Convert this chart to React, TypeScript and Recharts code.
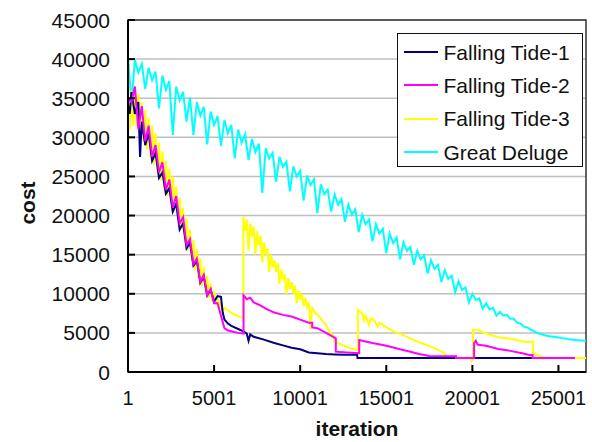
import React from "react";
import {
  LineChart,
  Line,
  XAxis,
  YAxis,
  CartesianGrid,
  Legend,
  ReferenceArea,
} from "recharts";

// x axis ticks and y axis ticks
const xTicks = [1, 5001, 10001, 15001, 20001, 25001];
const yTicks = [0, 5000, 10000, 15000, 20000, 25000, 30000, 35000, 40000, 45000];

const seriesNames = ["Falling Tide-1", "Falling Tide-2", "Falling Tide-3", "Great Deluge"];
const seriesColors = ["#000080", "#ff00ff", "#ffff00", "#00ffff"];

// Falling Tide-1
const ft1Iter = [
  1, 101, 201, 401, 601, 701, 801, 1001, 1201, 1401,
  1601, 1801, 2001, 2201, 2401, 2601, 2801, 3001, 3201, 3401,
  3601, 3801, 4001, 4201, 4401, 4601, 4801, 5001, 5201, 5401,
  5501, 5601, 5801, 6001, 6401, 6701, 6901, 7001, 7101, 7301,
  7801, 8501, 9001, 9501, 10001, 10501, 11001, 11501, 12001, 12601,
  13301, 13331, 24201,
];
const ft1Cost = [
  34000, 33000, 35800, 33000, 34500, 27500, 32000, 29000, 30500, 27000,
  28000, 24800, 25500, 22800, 23500, 20500, 21500, 18200, 19000, 15800,
  16500, 13600, 14200, 11400, 12200, 9800, 10500, 9000, 9700, 9600,
  7600, 6700, 6200, 5900, 5500, 5200, 4900, 4000, 4800, 4500,
  4200, 3700, 3400, 3100, 2900, 2500, 2400, 2300, 2250, 2200,
  2200, 1800, 1800,
];

// Falling Tide-2
const ft2Iter = [
  1, 201, 401, 601, 801, 1001, 1201, 1401, 1601, 1801,
  2001, 2201, 2401, 2601, 2801, 3001, 3201, 3401, 3601, 3801,
  4001, 4201, 4401, 4601, 4801, 5001, 5201, 5401, 5601, 5801,
  6001, 6201, 6401, 6711, 6711, 6901, 7101, 7301, 7601, 8001,
  8501, 9001, 9501, 10001, 10501, 10701, 10701, 11001, 11501, 12071,
  12071, 12701, 13431, 13431, 13801, 14201, 14801, 15301, 15801, 16401,
  16901, 17501, 19051, 19051, 20101, 20101, 20201, 20301, 20801, 21501,
  22201, 22901, 23301, 23501, 23501, 25961,
];
const ft2Cost = [
  35000, 34500, 36500, 31000, 34000, 29500, 31500, 27500, 29000, 25500,
  26800, 23300, 24600, 21000, 22500, 19000, 19800, 16200, 17000, 13800,
  14500, 11500, 12400, 9800, 10600, 8800, 8800, 7200, 5600, 5300,
  5200, 5100, 5000, 4900, 9800, 9300, 9500, 8900, 8600, 8100,
  7600, 7300, 7100, 6700, 6300, 6300, 5700, 5600, 5000, 4300,
  2600, 2500, 2400, 4100, 3900, 3700, 3450, 3200, 2900, 2600,
  2300, 2050, 2000, 1800, 1800, 3700, 4000, 3500, 3350, 2950,
  2700, 2400, 2180, 2180, 1800, 1800,
];

// Falling Tide-3
const ft3Iter = [
  1, 101, 201, 301, 401, 501, 601, 701, 801, 901,
  1001, 1101, 1201, 1301, 1401, 1501, 1601, 1701, 1801, 1901,
  2001, 2101, 2201, 2301, 2401, 2501, 2601, 2701, 2801, 2901,
  3001, 3101, 3201, 3301, 3401, 3501, 3601, 3701, 3801, 3901,
  4001, 4101, 4201, 4301, 4401, 4501, 4601, 4701, 4801, 4901,
  5001, 5101, 5201, 5301, 5401, 5501, 5601, 5801, 6001, 6201,
  6401, 6701, 6701, 6801, 6901, 7001, 7101, 7201, 7301, 7401,
  7501, 7601, 7701, 7801, 7901, 8001, 8101, 8201, 8301, 8401,
  8501, 8601, 8701, 8801, 8901, 9001, 9101, 9201, 9301, 9401,
  9501, 9601, 9701, 9801, 9901, 10001, 10101, 10201, 10301, 10401,
  10501, 10601, 10701, 10901, 11101, 11301, 11501, 11701, 11971, 11971,
  12401, 12801, 13351, 13351, 13601, 13701, 13801, 14001, 14101, 14301,
  14501, 14601, 15001, 15401, 15801, 16201, 16601, 17001, 17601, 18001,
  18401, 18501, 19901, 19951, 20041, 20041, 20401, 20701, 21101, 21601,
  22301, 23001, 23531, 23531, 24201, 26601,
];
const ft3Cost = [
  35500, 31000, 36000, 31500, 36500, 31500, 35500, 30500, 34500, 29500,
  33500, 28500, 32500, 27500, 31500, 26500, 30500, 25500, 29300, 24500,
  28200, 23500, 27000, 22500, 26000, 22000, 25000, 21000, 23700, 19500,
  22300, 18200, 21000, 17000, 19600, 15500, 18200, 14200, 16900, 13000,
  15700, 12000, 14500, 11000, 13400, 10300, 12300, 9500, 11300, 9000,
  10400, 8600, 9600, 8200, 8800, 7800, 8200, 7900, 7600, 7350,
  7150, 6900, 19900, 18000, 19500, 15500, 19000, 17300, 18600, 15000,
  18000, 16200, 17400, 14000, 16600, 15000, 15800, 12800, 15000, 13400,
  14300, 12800, 13900, 11300, 13100, 11800, 12500, 10000, 12000, 10600,
  11500, 10000, 11000, 8800, 10400, 9200, 10000, 8400, 9500, 8300,
  8900, 5500, 8200, 7500, 7100, 6500, 6000, 5200, 4500, 3900,
  3500, 3100, 2800, 7950, 7500, 6600, 7200, 6000, 6900, 6600,
  5800, 6300, 5700, 5200, 4900, 4500, 4100, 3700, 3240, 2820,
  2400, 1800, 1800, 1400, 1700, 5400, 5300, 5000, 4700, 4400,
  4230, 3880, 3880, 2400, 1800, 1800,
];

// Great Deluge, one reading every 200 iterations
const gdCost = [
  40400, 34400, 39900, 38300, 39400, 36200, 38900, 37300, 38400, 33700,
  37900, 36100, 37200, 30300, 36500, 34700, 35800, 32000, 35100, 30300,
  34500, 32800, 33900, 29100, 33300, 31600, 32700, 28900, 32200, 30500,
  31600, 27300, 31000, 29300, 30400, 27100, 29800, 28100, 29200, 22900,
  28600, 27300, 28000, 24300, 27500, 26200, 26900, 23100, 26300, 25000,
  25700, 21900, 25100, 23900, 24600, 20300, 24000, 22700, 23300, 20500,
  22700, 21400, 22100, 19200, 21400, 20100, 20800, 17900, 20100, 18900,
  19500, 16700, 18900, 17700, 18300, 15200, 17700, 16500, 17200, 14400,
  16600, 15500, 16000, 13700, 15500, 14400, 14900, 12600, 14300, 13200,
  13700, 11500, 13000, 11900, 12300, 10200, 11600, 10500, 10800, 8900,
  10000, 9200, 9400, 8100, 8800, 8000, 8200, 7200, 7700, 7200,
  7300, 6800, 6800, 6300, 6200, 5800, 5700, 5400, 5200, 4950,
  4850, 4700, 4600, 4550, 4480, 4400, 4330, 4270, 4200, 4150,
  4100, 4060, 4030, 4000,
];
const gdIter = gdCost.map((_, i) => 1 + 200 * i);

const toRows = (iters: number[], costs: number[]) =>
  iters.map((iter, i) => ({ iter, cost: costs[i] }));

const ft1Data = toRows(ft1Iter, ft1Cost);
const ft2Data = toRows(ft2Iter, ft2Cost);
const ft3Data = toRows(ft3Iter, ft3Cost);
const gdData = toRows(gdIter, gdCost);

const FONT = "Arial, 'Liberation Sans', sans-serif";

const YTick = (props: any) => {
  const { x, y, payload } = props;
  return (
    <g>
      <line x1={x + 18} x2={x + 25} y1={y} y2={y} stroke="#000" strokeWidth={2} />
      <text x={x} y={y} dy={7.5} textAnchor="end" fontSize={21} fontFamily={FONT} fill="#111">
        {payload.value}
      </text>
    </g>
  );
};

const XTick = (props: any) => {
  const { x, y, payload } = props;
  return (
    <g>
      <line x1={x} x2={x} y1={y - 18} y2={y - 25} stroke="#000" strokeWidth={2} />
      <text x={x} y={y} dy={15} textAnchor="middle" fontSize={20} fontFamily={FONT} fill="#111">
        {payload.value}
      </text>
    </g>
  );
};

const CostLabel = (props: any) => {
  const vb = props.viewBox || { x: 0, y: 20, width: 128, height: 352 };
  const cx = vb.x + 27;
  const cy = vb.y + vb.height / 2 + 7;
  return (
    <text
      x={cx}
      y={cy}
      transform={`rotate(-90, ${cx}, ${cy})`}
      textAnchor="middle"
      dominantBaseline="central"
      fontSize={21}
      fontWeight="bold"
      fontFamily={FONT}
      fill="#111"
    >
      cost
    </text>
  );
};

const IterLabel = (props: any) => {
  const vb = props.viewBox || { x: 128, y: 372, width: 458, height: 70 };
  return (
    <text
      x={vb.x + vb.width / 2}
      y={vb.y + 64}
      textAnchor="middle"
      fontSize={21}
      fontWeight="bold"
      fontFamily={FONT}
      fill="#111"
    >
      iteration
    </text>
  );
};

const LegendBox = () => (
  <div
    style={{
      boxSizing: "border-box",
      width: 186,
      height: 134,
      border: "1.5px solid #111",
      background: "#fff",
      paddingTop: 1.5,
      fontFamily: FONT,
    }}
  >
    {seriesNames.map((name, i) => (
      <div key={name} style={{ display: "flex", alignItems: "center", height: 33.3 }}>
        <div style={{ marginLeft: 5.5, width: 34, height: 2, background: seriesColors[i] }} />
        <span style={{ marginLeft: 6, fontSize: 21, color: "#111", lineHeight: "21px", whiteSpace: "nowrap" }}>
          {name}
        </span>
      </div>
    ))}
  </div>
);

export default function App() {
  return (
    <div style={{ position: "absolute", left: 0, top: 0, width: 592, height: 442, background: "#fff" }}>
      <LineChart width={592} height={442} margin={{ top: 20, right: 6, bottom: 0, left: 0 }}>
        <CartesianGrid vertical={false} stroke="#bfbfbf" strokeWidth={1.5} />
        <XAxis
          dataKey="iter"
          type="number"
          domain={[1, 26601]}
          ticks={xTicks}
          allowDataOverflow
          height={70}
          tickSize={0}
          tickMargin={18}
          tick={<XTick />}
          tickLine={false}
          axisLine={{ stroke: "#000", strokeWidth: 2 }}
          label={<IterLabel />}
        />
        <YAxis
          type="number"
          domain={[0, 45000]}
          ticks={yTicks}
          allowDataOverflow
          width={128}
          tickSize={0}
          tickMargin={18}
          tick={<YTick />}
          tickLine={false}
          axisLine={{ stroke: "#000", strokeWidth: 2 }}
          label={<CostLabel />}
        />
        <ReferenceArea x1={1} x2={26601} y1={0} y2={45000} fill="none" stroke="#333" strokeWidth={1.5} />
        <Line data={gdData} dataKey="cost" name={seriesNames[3]} stroke={seriesColors[3]} strokeWidth={2} dot={false} isAnimationActive={false} />
        <Line data={ft3Data} dataKey="cost" name={seriesNames[2]} stroke={seriesColors[2]} strokeWidth={2} dot={false} isAnimationActive={false} />
        <Line data={ft1Data} dataKey="cost" name={seriesNames[0]} stroke={seriesColors[0]} strokeWidth={2} dot={false} isAnimationActive={false} />
        <Line data={ft2Data} dataKey="cost" name={seriesNames[1]} stroke={seriesColors[1]} strokeWidth={2} dot={false} isAnimationActive={false} />
        <Legend
          layout="vertical"
          align="center"
          verticalAlign="middle"
          wrapperStyle={{ left: 397, top: 33, width: 186, height: 134 }}
          content={() => <LegendBox />}
        />
      </LineChart>
    </div>
  );
}
